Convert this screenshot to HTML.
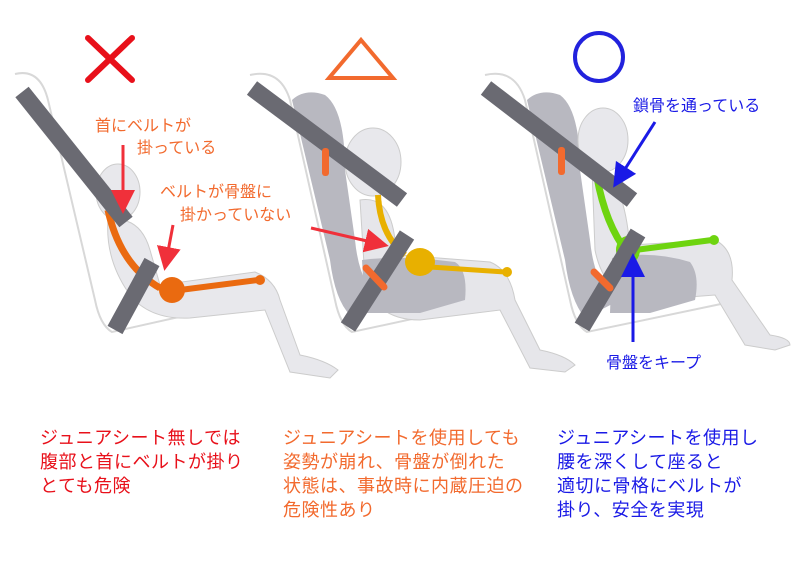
<!DOCTYPE html>
<html><head><meta charset="utf-8"><style>
html,body{margin:0;padding:0;background:#fff;}
body{width:800px;height:567px;overflow:hidden;font-family:"Liberation Sans","Noto Sans CJK JP",sans-serif;}
svg text{font-family:"Liberation Sans","Noto Sans CJK JP",sans-serif;}
</style></head><body>
<svg width="800" height="567" viewBox="0 0 800 567" xmlns="http://www.w3.org/2000/svg">
<defs>
<marker id="ar" markerWidth="8" markerHeight="8" refX="5" refY="4" orient="auto"><path d="M0,0 L8,4 L0,8 z" fill="#f0303a"/></marker>
<marker id="ab" markerWidth="8" markerHeight="8" refX="5" refY="4" orient="auto"><path d="M0,0 L8,4 L0,8 z" fill="#1a1ae6"/></marker>
</defs>
<!-- symbols -->
<path d="M88,38 L132,80 M132,38 L88,80" stroke="#e8101a" stroke-width="6" stroke-linecap="round"/>
<path d="M361,40 L393,78 L329,78 Z" fill="none" stroke="#f26a2e" stroke-width="4"/>
<circle cx="599" cy="57" r="24" fill="none" stroke="#2222dd" stroke-width="4"/>

<!-- Panel 1 -->
<path d="M15,74 Q40,68 48,100 L95,300 Q100,325 112,332 L255,300" fill="none" stroke="#d8d8d8" stroke-width="2"/>
<ellipse cx="118" cy="192" rx="22" ry="28" fill="#e8e8ec" stroke="#ccc"/>
<path d="M108,220 Q140,215 150,250 L160,285 L255,272 Q275,280 280,300 L300,355 Q325,360 338,370 L330,378 L290,372 L265,310 L190,318 Q150,320 130,295 Q105,260 108,220 Z" fill="#e8e8ec" stroke="#ccc"/>
<path d="M108,210 Q120,265 160,288" fill="none" stroke="#ea6a10" stroke-width="7"/>
<circle cx="172" cy="290" r="13" fill="#ea6a10"/>
<path d="M180,290 L258,280" stroke="#ea6a10" stroke-width="6"/>
<circle cx="260" cy="280" r="5" fill="#ea6a10"/>
<path d="M22,92 L126,222" stroke="#6a6a72" stroke-width="17"/>
<path d="M152,262 L115,330" stroke="#6a6a72" stroke-width="17"/>
<line x1="123" y1="145" x2="123" y2="205" stroke="#f0303a" stroke-width="3" marker-end="url(#ar)"/>
<line x1="173" y1="225" x2="166" y2="262" stroke="#f0303a" stroke-width="3" marker-end="url(#ar)"/>
<text x="95" y="131" font-size="16" fill="#f26a2e">首にベルトが</text>
<text x="137" y="153" font-size="16" fill="#f26a2e">掛っている</text>
<text x="160" y="197" font-size="16" fill="#f26a2e">ベルトが骨盤に</text>
<text x="180" y="220" font-size="16" fill="#f26a2e">掛かっていない</text>

<!-- Panel 2 -->
<path d="M250,75 Q280,68 290,100 L335,300 Q340,325 352,332 L500,300" fill="none" stroke="#d8d8d8" stroke-width="2"/>
<path d="M292,100 Q305,88 325,95 Q345,110 345,170 L355,240 Q360,290 385,300 L350,315 Q335,300 330,260 Z" fill="#b8b8c0"/>
<ellipse cx="373" cy="162" rx="28" ry="34" fill="#e8e8ec" stroke="#ccc"/>
<path d="M360,200 Q390,195 395,240 L400,255 L490,262 Q510,270 515,300 L540,350 Q565,355 575,365 L565,372 L530,368 L500,310 L420,320 Q375,320 365,280 Z" fill="#e6e6ea" stroke="#ccc"/>
<path d="M362,260 Q400,255 455,262 Q468,270 465,300 L420,313 L365,313 Z" fill="#b8b8c0"/>
<path d="M378,195 Q380,235 405,255" fill="none" stroke="#e8b000" stroke-width="6"/>
<ellipse cx="420" cy="262" rx="15" ry="14" fill="#e8b000"/>
<path d="M430,267 L505,272" stroke="#e8b000" stroke-width="5"/>
<circle cx="507" cy="272" r="5" fill="#e8b000"/>
<path d="M252,88 L402,200" stroke="#6a6a72" stroke-width="17"/>
<path d="M407,235 L348,327" stroke="#6a6a72" stroke-width="17"/>
<rect x="322" y="148" width="7" height="28" rx="3" fill="#f26a2e"/>
<path d="M366,268 L384,287" stroke="#f26a2e" stroke-width="7" stroke-linecap="round"/>
<line x1="311" y1="228" x2="380" y2="244" stroke="#f0303a" stroke-width="3" marker-end="url(#ar)"/>

<!-- Panel 3 -->
<path d="M485,75 Q515,68 525,100 L570,300 Q575,325 587,332 L740,300" fill="none" stroke="#d8d8d8" stroke-width="2"/>
<path d="M527,100 Q540,88 560,95 Q580,110 580,170 L590,240 Q595,290 620,300 L585,318 Q570,300 565,260 Z" fill="#b8b8c0"/>
<ellipse cx="603" cy="140" rx="25" ry="32" fill="#e8e8ec" stroke="#ccc"/>
<path d="M592,170 Q620,170 628,230 L630,245 L715,240 Q735,250 732,280 L770,335 Q790,338 790,345 L775,350 L745,345 L715,295 L650,300 Q605,300 595,250 Z" fill="#e6e6ea" stroke="#ccc"/>
<path d="M612,258 Q650,250 690,262 Q700,275 695,300 L650,313 L610,313 Z" fill="#b8b8c0"/>
<path d="M595,165 Q602,215 622,245" fill="none" stroke="#6ed410" stroke-width="7"/>
<ellipse cx="628" cy="250" rx="12" ry="14" fill="#6ed410"/>
<path d="M635,250 L712,240" stroke="#6ed410" stroke-width="6"/>
<circle cx="714" cy="240" r="5" fill="#6ed410"/>
<path d="M486,88 L632,200" stroke="#6a6a72" stroke-width="17"/>
<path d="M638,233 L582,327" stroke="#6a6a72" stroke-width="17"/>
<rect x="558" y="147" width="7" height="28" rx="3" fill="#f26a2e"/>
<path d="M594,272 L610,288" stroke="#f26a2e" stroke-width="7" stroke-linecap="round"/>
<line x1="655" y1="122" x2="618" y2="180" stroke="#1a1ae6" stroke-width="3" marker-end="url(#ab)"/>
<line x1="633" y1="342" x2="633" y2="262" stroke="#1a1ae6" stroke-width="3" marker-end="url(#ab)"/>
<text x="633" y="111" font-size="16" fill="#1a1ae6">鎖骨を通っている</text>
<text x="606" y="368" font-size="16" fill="#1a1ae6">骨盤をキープ</text>

<!-- captions -->
<g font-size="18" letter-spacing="0.5">
<text x="40" y="444" fill="#e8101a">ジュニアシート無しでは</text>
<text x="40" y="468" fill="#e8101a">腹部と首にベルトが掛り</text>
<text x="40" y="492" fill="#e8101a">とても危険</text>
<text x="283" y="444" fill="#f26a2e">ジュニアシートを使用しても</text>
<text x="283" y="468" fill="#f26a2e">姿勢が崩れ、骨盤が倒れた</text>
<text x="283" y="492" fill="#f26a2e">状態は、事故時に内蔵圧迫の</text>
<text x="283" y="516" fill="#f26a2e">危険性あり</text>
<text x="557" y="444" fill="#1a1ae6">ジュニアシートを使用し</text>
<text x="557" y="468" fill="#1a1ae6">腰を深くして座ると</text>
<text x="557" y="492" fill="#1a1ae6">適切に骨格にベルトが</text>
<text x="557" y="516" fill="#1a1ae6">掛り、安全を実現</text>
</g>
</svg>
</body></html>
